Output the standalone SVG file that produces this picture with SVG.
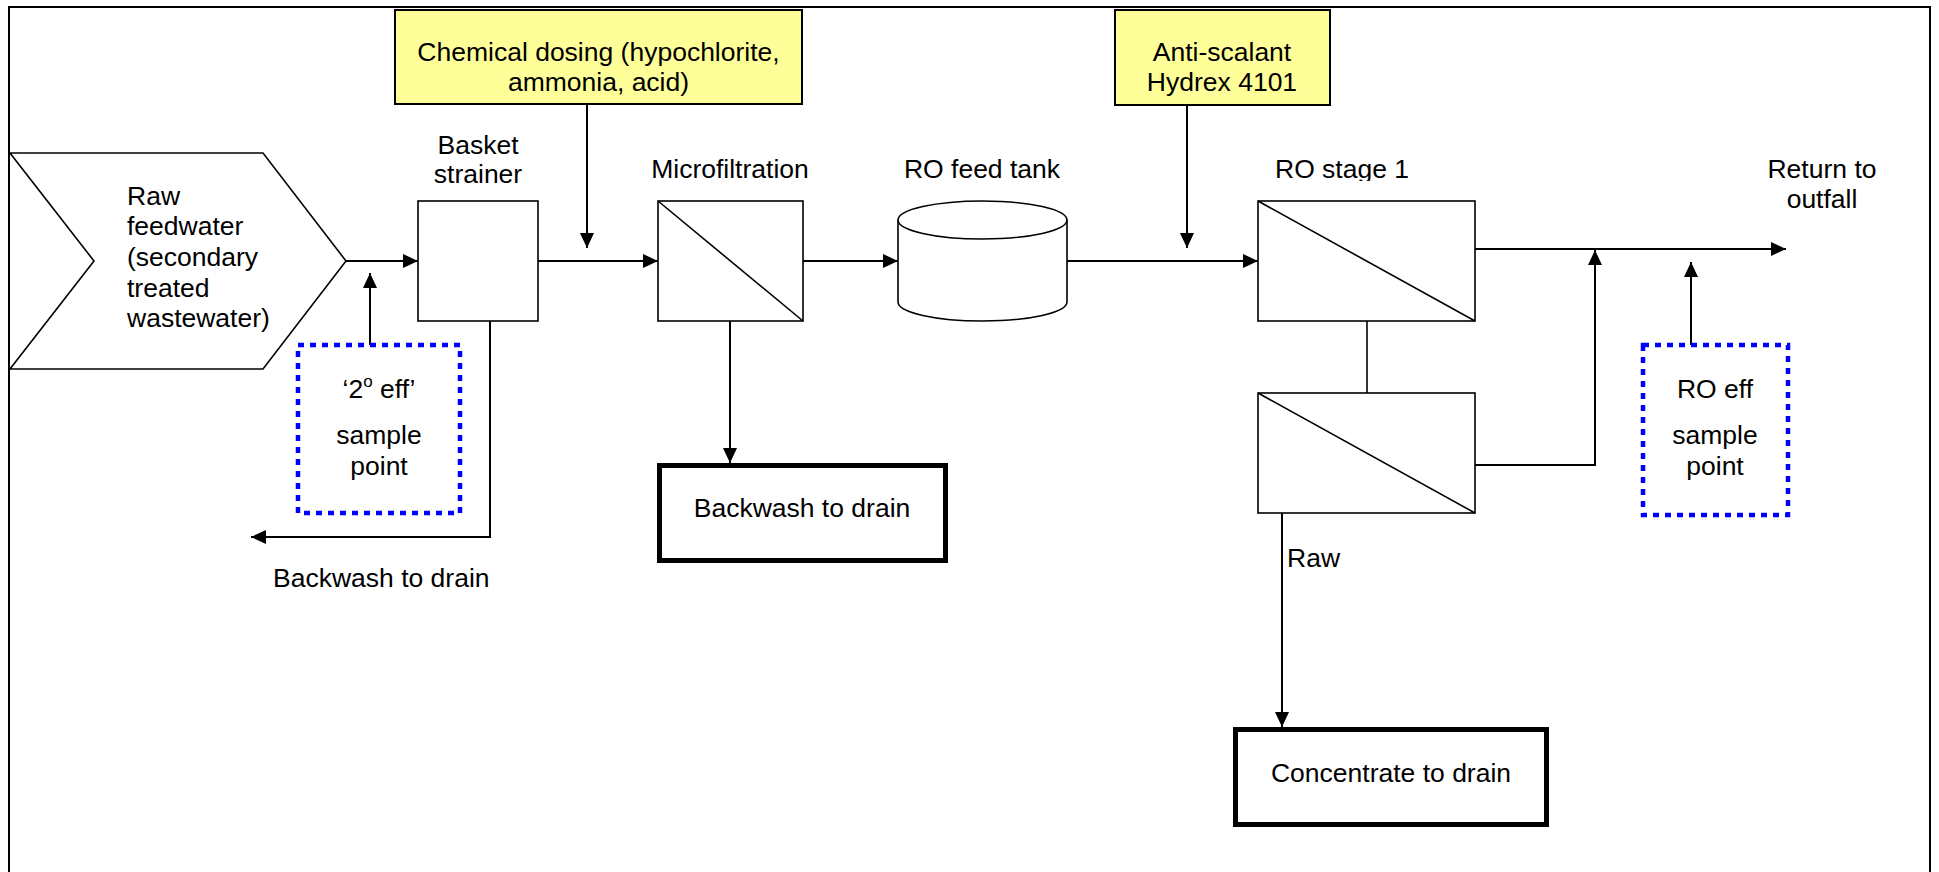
<svg xmlns="http://www.w3.org/2000/svg" width="1939" height="872" viewBox="0 0 1939 872">
<style>
text{font-family:"Liberation Sans",Arial,sans-serif;font-size:26.5px;fill:#000}
.c{text-anchor:middle}
.box{fill:#fff;stroke:#000;stroke-width:1.6}
.yel{fill:#ffff99;stroke:#000;stroke-width:2}
.thick{fill:#fff;stroke:#000;stroke-width:5}
.dot{fill:none;stroke:#0000ff;stroke-width:4.5;stroke-dasharray:6 6}
.ln{fill:none;stroke:#000;stroke-width:2}
.thin{fill:none;stroke:#000;stroke-width:1.6}
</style>
<defs>
<marker id="arr" viewBox="0 0 15 14" refX="15" refY="7" markerWidth="15" markerHeight="14" orient="auto" markerUnits="userSpaceOnUse"><path d="M0,0 L15,7 L0,14 z" fill="#000"/></marker>
<clipPath id="clipRO"><rect x="1200" y="140" width="300" height="41"/></clipPath>
</defs>
<rect width="1939" height="872" fill="#fff"/>
<path d="M9,880 V7 H1930 V880" fill="none" stroke="#000" stroke-width="2"/>

<g id="connectors">
<path class="ln" d="M346,261 H418" marker-end="url(#arr)"/>
<path class="ln" d="M370,345 V273" marker-end="url(#arr)"/>
<path class="ln" d="M538,261 H658" marker-end="url(#arr)"/>
<path class="ln" d="M587,105 V248" marker-end="url(#arr)"/>
<path class="ln" d="M803,261 H898" marker-end="url(#arr)"/>
<path class="ln" d="M1067,261 H1258" marker-end="url(#arr)"/>
<path class="ln" d="M1187,106 V248" marker-end="url(#arr)"/>
<path class="ln" d="M490,321 V537 H251" marker-end="url(#arr)"/>
<path class="ln" d="M730,321 V463" marker-end="url(#arr)"/>
<path class="thin" d="M1367,321 V393"/>
<path class="ln" d="M1475,249 H1786" marker-end="url(#arr)"/>
<path class="ln" d="M1475,465 H1595 V250" marker-end="url(#arr)"/>
<path class="ln" d="M1691,345 V262" marker-end="url(#arr)"/>
<path class="ln" d="M1282,513 V727" marker-end="url(#arr)"/>
</g>

<g id="raw-feedwater">
<path class="box" d="M10,153 H263 L346,261 L263,369 H10 L94,261 Z"/>
<text x="127" y="205">Raw</text>
<text x="127" y="235">feedwater</text>
<text x="127" y="266">(secondary</text>
<text x="127" y="297">treated</text>
<text x="127" y="327">wastewater)</text>
</g>

<g id="chemical-dosing">
<rect class="yel" x="395" y="10" width="407" height="94"/>
<text class="c" x="598.5" y="61">Chemical dosing (hypochlorite,</text>
<text class="c" x="598.5" y="91">ammonia, acid)</text>
</g>

<g id="anti-scalant">
<rect class="yel" x="1115" y="10" width="215" height="95"/>
<text class="c" x="1222" y="61">Anti-scalant</text>
<text class="c" x="1222" y="91">Hydrex 4101</text>
</g>

<g id="basket-strainer">
<rect class="box" x="418" y="201" width="120" height="120"/>
<text class="c" x="478" y="154">Basket</text>
<text class="c" x="478" y="183">strainer</text>
</g>

<g id="microfiltration">
<rect class="box" x="658" y="201" width="145" height="120"/>
<path class="thin" d="M658,201 L803,321"/>
<text class="c" x="730" y="178">Microfiltration</text>
</g>

<g id="ro-feed-tank">
<path class="box" d="M898,220 V302 A84.5,19 0 0 0 1067,302 V220"/>
<ellipse class="box" cx="982.5" cy="220" rx="84.5" ry="19"/>
<text class="c" x="982" y="178">RO feed tank</text>
</g>

<g id="ro-stage-1">
<rect class="box" x="1258" y="201" width="217" height="120"/>
<path class="thin" d="M1258,201 L1475,321"/>
<text x="1275" y="178" clip-path="url(#clipRO)">RO stage 1</text>
</g>

<g id="ro-stage-2">
<rect class="box" x="1258" y="393" width="217" height="120"/>
<path class="thin" d="M1258,393 L1475,513"/>
</g>

<g id="sample-2eff">
<rect class="dot" x="298" y="345" width="162" height="168"/>
<text class="c" x="379" y="398">‘2<tspan font-size="17" dy="-11">o</tspan><tspan dy="11"> eff’</tspan></text>
<text class="c" x="379" y="444">sample</text>
<text class="c" x="379" y="475">point</text>
</g>

<g id="sample-ro-eff">
<rect class="dot" x="1643" y="345" width="145" height="170"/>
<text class="c" x="1715" y="398">RO eff</text>
<text class="c" x="1715" y="444">sample</text>
<text class="c" x="1715" y="475">point</text>
</g>

<g id="backwash-label">
<text x="273" y="587">Backwash to drain</text>
</g>

<g id="backwash-drain">
<rect class="thick" x="659.5" y="465.5" width="286" height="95"/>
<text class="c" x="802" y="517">Backwash to drain</text>
</g>

<g id="return-outfall">
<text class="c" x="1822" y="178">Return to</text>
<text class="c" x="1822" y="208">outfall</text>
</g>

<g id="concentrate-drain">
<rect class="thick" x="1235.5" y="729.5" width="311" height="95"/>
<text class="c" x="1391" y="782">Concentrate to drain</text>
</g>

<g id="raw-label">
<text x="1287" y="567" font-size="32">Raw</text>
</g>
</svg>
